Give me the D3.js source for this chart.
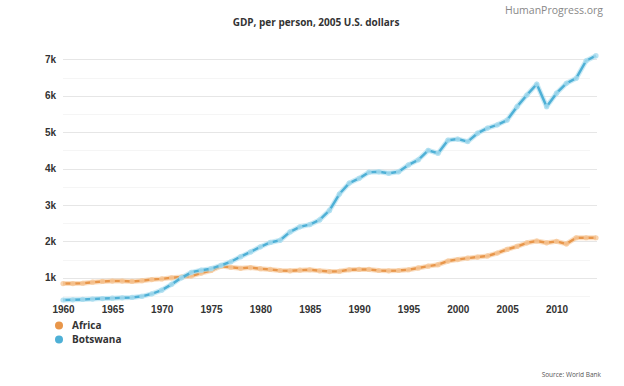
<!DOCTYPE html>
<html>
<head>
  <meta charset="utf-8">
  <title>GDP per person</title>
  <script src="https://cdn.jsdelivr.net/npm/d3@7"></script>
  <style>
    body { margin: 0; background: #fff; font-family: "Open Sans", sans-serif; }
    .grid line { stroke: #e6e6e6; stroke-width: 1; }
    .grid line.minor { stroke: #f5f5f5; }
    .axis text { font-size: 10px; font-weight: bold; fill: #333; }
    .title { font-size: 10px; font-weight: bold; fill: #333; text-anchor: middle; }
    .brand { font-size: 10.5px; fill: #888; text-anchor: end; }
    .source { font-size: 6.5px; fill: #555; text-anchor: end; }
    .legend text { font-size: 10px; font-weight: bold; fill: #333; }
  </style>
</head>
<body>
<script>
// data
var years = d3.range(1960, 2015);
var africa = [840, 840, 850, 880, 900, 910, 910, 900, 920, 950,
              970, 1000, 1020, 1050, 1130, 1200, 1320, 1290, 1260, 1280,
              1250, 1230, 1200, 1190, 1210, 1220, 1190, 1170, 1180, 1220,
              1230, 1230, 1200, 1190, 1200, 1220, 1270, 1320, 1360, 1460,
              1500, 1540, 1570, 1600, 1680, 1780, 1860, 1960, 2010, 1960,
              2000, 1930, 2100, 2100, 2100];
var botswana = [390, 395, 405, 415, 430, 440, 450, 460, 490, 560,
                660, 820, 1000, 1150, 1210, 1250, 1340, 1440, 1580, 1710,
                1850, 1970, 2030, 2260, 2400, 2460, 2590, 2850, 3300, 3600,
                3730, 3900, 3910, 3870, 3910, 4100, 4240, 4500, 4420, 4780,
                4810, 4740, 4970, 5110, 5200, 5330, 5700, 6020, 6320, 5700,
                6070, 6340, 6480, 6960, 7100];
var yTicks = [1000, 2000, 3000, 4000, 5000, 6000, 7000];
var yMinor = [500, 1500, 2500, 3500, 4500, 5500, 6500];
var xTicks = [1960, 1965, 1970, 1975, 1980, 1985, 1990, 1995, 2000, 2005, 2010];
var seriesNames = ["Africa", "Botswana"];
var seriesColors = ["#e8964a", "#4eb0d6"];
var haloColors = ["#f6c89a", "#a9dcef"];

var width = 624, height = 386;
var svg = d3.select("body").append("svg")
            .attr("width", width)
            .attr("height", height);

var x = d3.scaleLinear().domain([1960, 2014]).range([63, 596]);
var y = d3.scaleLinear().domain([0, 7000]).range([314.2, 59.3]);

// grid lines
var grid = svg.append("g").attr("class", "grid");
grid.selectAll("line.major").data(yTicks).enter().append("line")
    .attr("class", "major")
    .attr("x1", 63).attr("x2", 597)
    .attr("y1", function(d) { return Math.round(y(d)) + 0.5; })
    .attr("y2", function(d) { return Math.round(y(d)) + 0.5; });
grid.selectAll("line.minor").data(yMinor).enter().append("line")
    .attr("class", "minor")
    .attr("x1", 63).attr("x2", 590)
    .attr("y1", function(d) { return Math.round(y(d)) + 0.5; })
    .attr("y2", function(d) { return Math.round(y(d)) + 0.5; });

// axes (labels only)
var yAxis = d3.axisLeft(y).tickValues(yTicks).tickSize(0).tickPadding(0)
              .tickFormat(function(d) { return (d / 1000) + "k"; });
svg.append("g").attr("class", "axis")
   .attr("transform", "translate(56,0)")
   .call(yAxis)
   .call(function(g) { g.select(".domain").remove(); });

var xAxis = d3.axisBottom(x).tickValues(xTicks).tickSize(0).tickPadding(0)
              .tickFormat(d3.format("d"));
svg.append("g").attr("class", "axis")
   .attr("transform", "translate(0,306)")
   .call(xAxis)
   .call(function(g) { g.select(".domain").remove(); });

// lines and markers
var line = d3.line()
             .x(function(d, i) { return x(years[i]); })
             .y(function(d) { return y(d); });

[africa, botswana].forEach(function(values, k) {
  svg.append("path")
     .datum(values)
     .attr("fill", "none")
     .attr("stroke", haloColors[k])
     .attr("stroke-width", 5)
     .attr("stroke-opacity", 0.6)
     .attr("stroke-linejoin", "round")
     .attr("d", line);
  svg.append("path")
     .datum(values)
     .attr("fill", "none")
     .attr("stroke", seriesColors[k])
     .attr("stroke-width", 2.5)
     .attr("stroke-linejoin", "round")
     .attr("d", line);
  svg.append("g").selectAll("circle")
     .data(values).enter().append("circle")
     .attr("cx", function(d, i) { return x(years[i]); })
     .attr("cy", function(d) { return y(d); })
     .attr("r", 2.6)
     .attr("fill", haloColors[k])
     .attr("fill-opacity", 0.8);
});

// title and labels
svg.append("text").attr("class", "title")
   .attr("x", 316).attr("y", 26)
   .text("GDP, per person, 2005 U.S. dollars");

svg.append("text").attr("class", "brand")
   .attr("x", 603).attr("y", 14)
   .text("HumanProgress.org");

svg.append("text").attr("class", "source")
   .attr("x", 601).attr("y", 377)
   .text("Source: World Bank");

// legend
var legend = svg.append("g").attr("class", "legend");
seriesNames.forEach(function(name, k) {
  legend.append("circle")
        .attr("cx", 59).attr("cy", 325.5 + k * 14)
        .attr("r", 4)
        .attr("fill", seriesColors[k]);
  legend.append("text")
        .attr("x", 72).attr("y", 329 + k * 14)
        .text(name);
});
</script>
</body>
</html>
